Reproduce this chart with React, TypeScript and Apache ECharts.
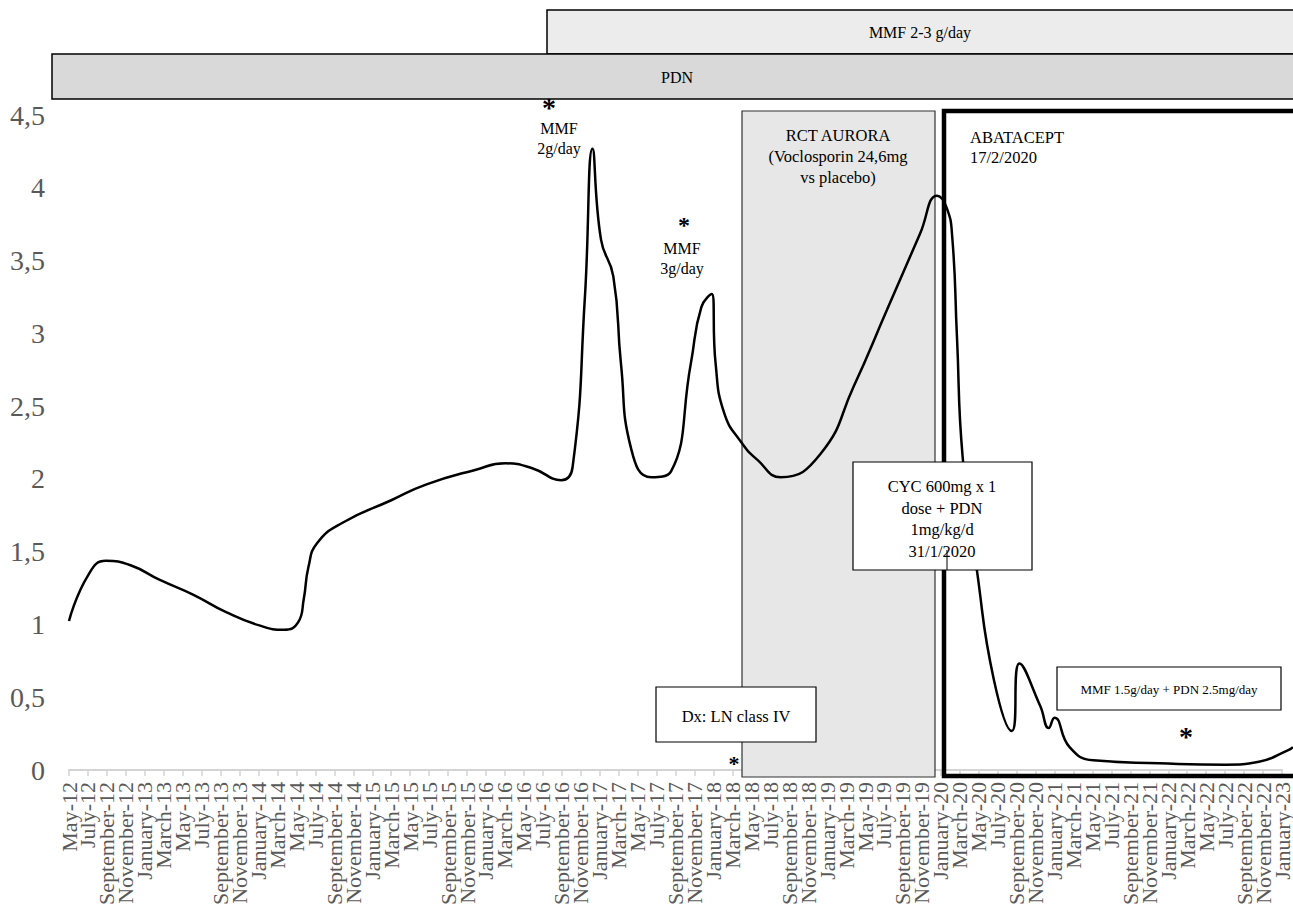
import React, { useEffect, useRef } from "react";
import * as echarts from "echarts";

// Tick labels (category axis), one every two months from May 2012
const tickLabels = [
  "May-12", "July-12", "September-12", "November-12",
  "January-13", "March-13", "May-13", "July-13", "September-13", "November-13",
  "January-14", "March-14", "May-14", "July-14", "September-14", "November-14",
  "January-15", "March-15", "May-15", "July-15", "September-15", "November-15",
  "January-16", "March-16", "May-16", "July-16", "September-16", "November-16",
  "January-17", "March-17", "May-17", "July-17", "September-17", "November-17",
  "January-18", "March-18", "May-18", "July-18", "September-18", "November-18",
  "January-19", "March-19", "May-19", "July-19", "September-19", "November-19",
  "January-20", "March-20", "May-20", "July-20", "September-20", "November-20",
  "January-21", "March-21", "May-21", "July-21", "September-21", "November-21",
  "January-22", "March-22", "May-22", "July-22", "September-22", "November-22",
  "January-23",
];

// measurement times, in months since May 2012
const monthIndex = [
  0, 2, 3.9, 6.5, 9.6, 13.1, 16.6, 20.1, 22.7, 24.2, 24.8, 25.3, 26.2, 28.9,
  34.1, 37.7, 42.9, 46.1, 49, 52.0, 53.2, 54.5, 55.3, 56.2, 57.5, 58.3, 59.4,
  61.5, 63.6, 65.7, 66.8, 67.9, 68.3, 69.2, 71.0, 72.7, 75.2, 79.4, 82.9, 86.4,
  89.9, 91.7, 92.7, 93.3, 93.8, 94.4, 95.9, 97.7, 99.6, 100.4, 102.6, 103.5,
  104.1, 105.7, 108.2, 115.2, 122.2, 125.7, 128.8, 129.3,
];
const values = [
  1.05, 1.36, 1.46, 1.43, 1.33, 1.23, 1.11, 1.02, 0.99, 1.04, 1.2, 1.42, 1.58, 1.72,
  1.875, 1.98, 2.08, 2.125, 2.09, 2.01, 2.1, 3.26, 4.27, 3.65, 3.4, 2.81, 2.22,
  2.03, 2.07, 2.81, 3.19, 3.28, 2.81, 2.47, 2.27, 2.15, 2.03, 2.19, 2.65, 3.17,
  3.69, 3.95, 3.87, 3.67, 2.99, 2.17, 1.4, 0.65, 0.3, 0.76, 0.47, 0.32,
  0.39, 0.19, 0.1, 0.08, 0.07, 0.09, 0.17, 0.19,
];

const yTicks = [0, 0.5, 1, 1.5, 2, 2.5, 3, 3.5, 4, 4.5];

const SERIF = '"Liberation Serif", "Times New Roman", Times, serif';

function txt(text: string, x: number, y: number, size: number, opts: any = {}) {
  return {
    type: "text",
    x,
    y,
    z: 120,
    style: {
      text,
      fill: "#000",
      fontSize: size,
      fontFamily: SERIF,
      fontWeight: opts.fontWeight || "normal",
      align: opts.align || "center",
      verticalAlign: opts.verticalAlign || "middle",
      lineHeight: opts.lineHeight || size * 1.3,
    },
  };
}

function star(x: number, y: number, size: number) {
  return txt("*", x, y, size, { lineHeight: size * 0.45, fontWeight: "bold" });
}

function box(x: number, y: number, w: number, h: number, fill: string, stroke: string, lw: number, z: number) {
  return {
    type: "rect",
    z,
    shape: { x, y, width: w, height: h },
    style: { fill, stroke, lineWidth: lw },
  };
}

export default function App() {
  const ref = useRef<HTMLDivElement>(null);
  useEffect(() => {
    if (!ref.current) return;
    const chart = echarts.init(ref.current, null, { renderer: "svg" });
    const data = monthIndex.map((m, i) => [m, values[i]]);
    const yMin = yTicks[0];
    const yMax = yTicks[yTicks.length - 1];
    chart.setOption({
      animation: false,
      backgroundColor: "#ffffff",
      grid: [
        { left: 69, top: 115, width: 1216, height: 660 },
        { left: 69, top: 115, width: 1228, height: 660 },
      ],
      xAxis: [
        {
          type: "category",
          gridIndex: 0,
          data: tickLabels,
          boundaryGap: false,
          axisLine: { show: true, lineStyle: { color: "#d4d4d4", width: 2 } },
          axisTick: { show: true, interval: 0, length: 6, lineStyle: { color: "#d4d4d4", width: 1.5 } },
          splitLine: { show: false },
          axisLabel: {
            interval: 0,
            rotate: 90,
            margin: 12,
            color: "#595959",
            fontSize: 22,
            fontFamily: SERIF,
          },
        },
        {
          type: "value",
          gridIndex: 1,
          min: 0,
          max: 129.3,
          show: false,
        },
      ],
      yAxis: [
        {
          type: "value",
          gridIndex: 0,
          min: yMin,
          max: yMax,
          interval: 0.5,
          axisLine: { show: false },
          axisTick: { show: false },
          splitLine: { show: false },
          axisLabel: {
            margin: 24,
            color: "#595959",
            fontSize: 28,
            fontFamily: SERIF,
            formatter: (v: number) => String(v).replace(".", ","),
          },
        },
        {
          type: "value",
          gridIndex: 1,
          min: yMin,
          max: yMax,
          interval: 0.5,
          show: false,
        },
      ],
      series: [
        {
          type: "line",
          xAxisIndex: 1,
          yAxisIndex: 1,
          data,
          smooth: 0.5,
          symbol: "none",
          z: 10,
          lineStyle: { color: "#000", width: 2.5 },
        },
      ],
      graphic: [
        // treatment bars on top
        box(547, 10, 760, 44, "#ececec", "#000", 1.5, 5),
        txt("MMF 2-3 g/day", 920, 32, 16),
        box(52, 54, 1260, 45, "#d9d9d9", "#000", 1.5, 5),
        txt("PDN", 677, 77, 16),
        // RCT AURORA shaded band (below line)
        box(742, 111, 193, 666, "#e7e7e7", "#333", 1.2, 1),
        txt("RCT AURORA\n(Voclosporin 24,6mg\nvs placebo)", 838, 156, 16.5, { lineHeight: 21 }),
        // ABATACEPT frame
        {
          type: "rect",
          z: 60,
          shape: { x: 944, y: 111, width: 400, height: 665 },
          style: { fill: "none", stroke: "#000", lineWidth: 4.5 },
        },
        txt("ABATACEPT\n17/2/2020", 970, 127, 16.5, { align: "left", verticalAlign: "top", lineHeight: 20 }),
        // CYC box
        box(853, 462, 179, 108, "#ffffff", "#000", 1.2, 100),
        txt("CYC 600mg x 1\ndose + PDN\n1mg/kg/d\n31/1/2020", 942, 519, 16.5, { lineHeight: 21.5 }),
        {
          type: "line",
          z: 110,
          shape: { x1: 947, y1: 550, x2: 947, y2: 570 },
          style: { stroke: "#000", lineWidth: 1 },
        },
        // Dx box
        box(656, 687, 160, 55, "#ffffff", "#000", 1.2, 100),
        txt("Dx: LN class IV", 736, 716, 16.5),
        // MMF 1.5 box
        box(1057, 667, 224, 43, "#ffffff", "#000", 1.2, 100),
        txt("MMF 1.5g/day + PDN 2.5mg/day", 1169, 689, 13),
        // MMF start annotations
        star(549, 107, 28),
        txt("MMF\n2g/day", 559, 138, 16, { lineHeight: 20 }),
        star(684, 225, 24),
        txt("MMF\n3g/day", 682, 258, 16, { lineHeight: 20 }),
        star(734, 763, 22),
        star(1186, 736, 28),
      ],
    });
    return () => chart.dispose();
  }, []);
  return (
    <div
      ref={ref}
      style={{ position: "fixed", left: 0, top: 0, width: 1293, height: 908, overflow: "hidden", background: "#fff" }}
    />
  );
}
